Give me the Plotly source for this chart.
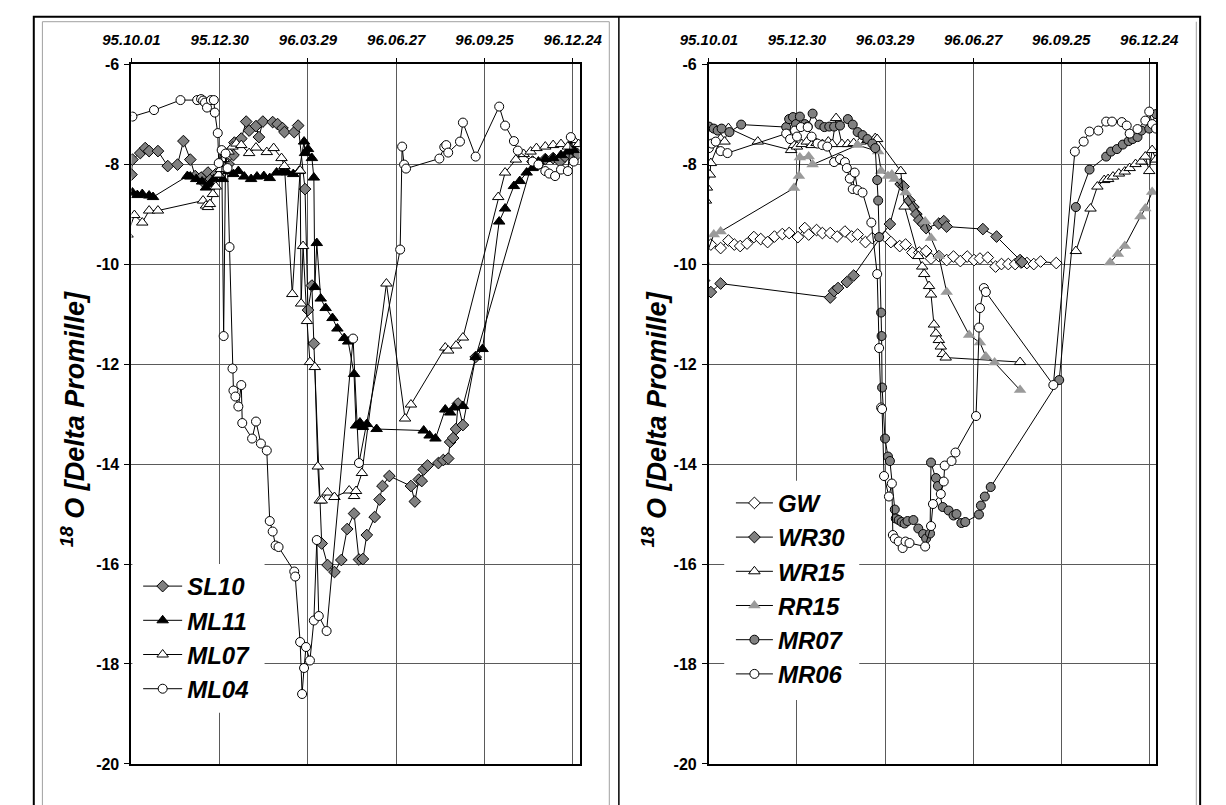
import pandas as pd
import plotly.graph_objects as go

# ---------------- data (days since 1995-10-01, delta-18O values) ----------------
BASE = pd.Timestamp("1995-10-01")
END_DAY = 457
tick_days = [0, 90, 180, 270, 360, 450]
y_ticks = [-20, -18, -16, -14, -12, -10, -8, -6]
y_ticktext = ["-20", "-18", "-16", "-14", "-12", "-10", "-8", "-6"]

# Left panel
SL10_day = [-4, 0, 1, 9, 14, 18, 27, 37, 47, 53, 60, 65, 71, 75, 78, 81, 86, 93, 99, 104,
            105, 112, 117, 120, 127, 130, 134, 144, 149, 154, 156, 166, 170, 177, 180, 184, 186, 194, 200, 207,
            214, 220, 227, 232, 236, 240, 248, 253, 256, 263, 285, 289, 293, 296, 298, 302, 313, 318, 323, 325,
            328, 331, 333, 338, 351, 409, 415, 422, 430, 437, 442, 448, 455]
SL10_val = [-8.55, -8.21, -7.91, -7.78, -7.68, -7.74, -7.74, -8.04, -8.01, -7.54, -7.91, -8.24, -8.27, -8.39, -8.17, -8.3, -8.2, -7.95, -8.0, -7.82,
            -7.57, -7.49, -7.15, -7.33, -7.24, -7.46, -7.15, -7.16, -7.2, -7.28, -7.36, -7.36, -7.23, -8.5, -10.92, -10.43, -11.59, -15.59, -16.02, -16.16,
            -15.92, -15.3, -14.99, -15.91, -15.9, -15.42, -15.06, -14.71, -14.44, -14.24, -14.44, -14.75, -14.31, -14.34, -14.11, -14.03, -13.98, -13.92, -13.89, -13.56,
            -13.48, -13.3, -12.79, -13.22, -11.86, -7.95, -8.0, -7.9, -7.88, -7.95, -7.85, -7.82, -7.8]

ML11_day = [-4, 1, 6, 11, 18, 22, 57, 60, 66, 72, 76, 80, 84, 89, 93, 99, 104, 109, 115, 122,
            128, 135, 141, 148, 154, 159, 165, 171, 176, 177, 180, 184, 186, 187, 189, 193, 198, 205, 210, 217,
            221, 227, 229, 233, 236, 240, 250, 298, 304, 310, 320, 325, 329, 338, 351, 358, 375, 381, 390, 396,
            403, 409, 415, 422, 430, 438, 445, 451, 456]
ML11_val = [-8.57, -8.57, -8.62, -8.6, -8.63, -8.66, -8.24, -8.25, -8.3, -8.35, -8.47, -8.4, -8.3, -8.21, -8.3, -8.14, -8.2, -8.14, -8.25, -8.3,
            -8.25, -8.24, -8.28, -8.17, -8.14, -8.17, -8.2, -8.14, -7.55, -7.78, -7.7, -7.88, -8.27, -10.46, -9.58, -10.69, -10.88, -11.08, -11.29, -11.48,
            -11.55, -12.2, -13.23, -13.17, -13.26, -13.2, -13.3, -13.33, -13.43, -13.49, -12.91, -12.97, -12.87, -12.84, -11.86, -11.7, -9.15, -8.89, -8.44, -8.34,
            -8.17, -8.08, -7.95, -7.9, -7.88, -7.82, -7.75, -7.72, -7.6]

ML07_day = [-4, 3, 11, 18, 27, 73, 76, 78, 80, 83, 86, 89, 91, 94, 99, 103, 107, 112, 120, 127,
            138, 145, 153, 156, 164, 172, 173, 175, 179, 182, 187, 190, 192, 194, 200, 207, 222, 227, 229, 235,
            260, 279, 285, 320, 323, 331, 338, 374, 381, 392, 400, 407, 413, 422, 430, 438, 445, 451, 456]
ML07_val = [-9.41, -9.02, -9.17, -8.93, -8.93, -8.73, -8.83, -8.86, -8.8, -8.6, -8.45, -8.21, -8.1, -7.9, -7.75, -7.65, -7.59, -7.62, -7.78, -7.67,
            -7.76, -7.68, -7.88, -8.04, -10.6, -8.13, -10.79, -9.64, -11.14, -11.96, -12.06, -14.05, -14.73, -14.73, -14.57, -14.66, -14.53, -14.64, -14.54, -14.18,
            -10.39, -13.09, -12.81, -11.67, -11.73, -11.63, -11.47, -8.66, -8.17, -7.91, -7.8, -7.75, -7.68, -7.65, -7.62, -7.6, -7.65, -7.52, -7.6]

ML04_day = [-7, 1, 23, 50, 67, 71, 73, 75, 77, 81, 84, 85, 88, 89, 92, 94, 96, 98, 100, 103,
            104, 106, 109, 112, 113, 123, 127, 132, 138, 141, 144, 147, 150, 166, 167, 172, 174, 176, 178, 182,
            186, 189, 191, 199, 226, 232, 274, 276, 278, 280, 314, 319, 321, 323, 335, 338, 351, 375, 381, 390,
            394, 409, 415, 422, 426, 432, 438, 445, 448, 451]
ML04_val = [-6.87, -7.05, -6.92, -6.72, -6.72, -6.7, -6.73, -6.77, -6.87, -6.72, -6.72, -6.97, -7.38, -7.98, -7.72, -11.44, -7.79, -8.08, -9.66, -12.09,
            -12.53, -12.65, -12.85, -12.42, -13.18, -13.49, -13.15, -13.59, -13.73, -15.14, -15.35, -15.63, -15.66, -16.15, -16.25, -17.56, -18.6, -18.08, -17.66, -17.93,
            -17.13, -15.52, -17.04, -17.34, -11.49, -13.98, -9.71, -7.65, -8.01, -8.09, -7.89, -7.66, -7.62, -7.77, -7.55, -7.17, -7.85, -6.85, -7.23, -7.54,
            -7.73, -7.95, -8.01, -8.14, -8.19, -8.24, -8.11, -8.14, -7.46, -7.95]

# Right panel
GW_day = [-7, 2, 12, 20, 26, 32, 39, 46, 53, 60, 67, 75, 82, 91, 98, 102, 110, 116, 124, 131,
          139, 146, 152, 160, 167, 180, 186, 195, 201, 208, 215, 222, 227, 235, 243, 250, 257, 264, 271, 277,
          285, 293, 299, 306, 313, 319, 325, 332, 339, 355]
GW_val = [-9.64, -9.61, -9.68, -9.53, -9.61, -9.64, -9.59, -9.46, -9.5, -9.56, -9.45, -9.4, -9.38, -9.46, -9.28, -9.41, -9.32, -9.38, -9.38, -9.45,
          -9.35, -9.45, -9.41, -9.56, -9.48, -9.45, -9.56, -9.64, -9.61, -9.77, -9.77, -9.74, -9.89, -9.84, -9.92, -9.85, -9.94, -9.85, -9.92, -9.89,
          -9.87, -10.05, -10.0, -10.0, -10.0, -9.97, -9.98, -10.0, -9.95, -9.98]

WR30_day = [-5, 2, 12, 124, 128, 132, 141, 148, 185, 196, 199, 205, 209, 212, 215, 219, 222, 235, 240, 243, 280, 294, 318, 320]
WR30_val = [-10.33, -10.56, -10.39, -10.67, -10.54, -10.48, -10.36, -10.23, -9.2, -8.4, -8.45, -8.73, -8.86, -9.0, -9.12, -9.2, -9.28, -9.19, -9.14, -9.25, -9.3, -9.45, -9.92, -9.96]

WR15_day = [-3, -2, 1, 2, 12, 16, 20, 50, 84, 87, 90, 95, 100, 105, 110, 116, 122, 126, 130, 136,
            142, 148, 155, 162, 170, 172, 196, 200, 214, 218, 220, 225, 227, 230, 232, 235, 237, 239, 242, 318,
            None, 375, 390, 397, 404, 408, 413, 419, 425, 430, 436, 442, 446, 450, 453, 457]
WR15_val = [-8.73, -8.47, -8.21, -7.98, -7.49, -7.55, -7.28, -7.55, -7.72, -7.62, -7.65, -7.6, -7.55, -7.62, -7.58, -7.6, -7.55, -7.6, -7.08, -7.6,
            -7.6, -7.58, -7.55, -7.52, -7.48, -7.5, -8.14, -8.85, -9.84, -10.05, -10.2, -10.44, -10.61, -11.21, -11.39, -11.52, -11.65, -11.8, -11.87, -11.96,
            None, -9.74, -8.89, -8.45, -8.32, -8.3, -8.25, -8.19, -8.15, -8.08, -8.0, -7.95, -7.85, -8.14, -7.72, -7.91]

RR15_day = [-5, 5, 12, 87, 92, 93, 102, 106, 152, 173, 176, 183, 187, 190, 201, 221, 227, 235, 243, 266,
            277, 283, 292, 318, None, 410, 418, 425, 441, 446, 453]
RR15_val = [-9.94, -9.41, -9.35, -8.48, -8.24, -7.87, -7.85, -8.01, -7.62, -7.75, -8.14, -8.24, -8.21, -8.3, -8.57, -9.15, -9.48, -9.84, -10.56, -11.42,
            -11.57, -11.85, -11.97, -12.52, None, -9.97, -9.8, -9.64, -9.05, -8.89, -8.56]

MR07_day = [-7, 0, 5, 9, 13, 21, 33, 79, 82, 86, 89, 93, 98, 101, 106, 113, 118, 123, 128, 134,
            142, 147, 152, 157, 162, 167, 170, 172, 173, 174, 176, 176.5, 177, 180, 183, 185, 190, 191, 194, 197,
            200, 203, 209, 214, 219, 222, 226, 227, 232, 234, 239, 245, 250, 253, 258, 262, 276, 278, 282, 288,
            358, 375, 389, 406, 411, 417, 423, 429, 433, 438, 442, 450, 457]
MR07_val = [-7.06, -7.25, -7.29, -7.33, -7.29, -7.36, -7.21, -7.26, -7.1, -7.06, -7.2, -7.05, -7.2, -7.25, -6.99, -7.21, -7.26, -7.25, -7.25, -7.23,
            -7.1, -7.21, -7.36, -7.42, -7.5, -7.59, -7.68, -8.32, -8.73, -9.46, -10.97, -11.44, -12.47, -13.49, -13.85, -13.94, -14.91, -15.09, -15.12, -15.16,
            -15.19, -15.14, -15.12, -15.29, -15.4, -15.49, -15.39, -13.97, -14.28, -14.44, -14.86, -14.93, -15.03, -15.0, -15.18, -15.16, -15.01, -14.83, -14.65, -14.46,
            -12.32, -8.86, -8.11, -7.85, -7.75, -7.7, -7.61, -7.54, -7.5, -7.46, -7.33, -7.29, -7.0]

MR06_day = [-5, 0, 3, 7, 12, 19, 79, 83, 88, 90, 94, 101, 105, 111, 116, 121, 128, 134, 139, 141,
            144, 147, 149, 152, 157, 166, 172, 174, 176, 177, 179, 184, 187, 188, 190, 194, 198, 201, 205, 221,
            227, 229, 237, 240, 241, 248, 252, 273, 276, 277, 281, 283, 352, 374, 383, 389, 398, 406, 412, 422,
            427, 430, 438, 446, 450, 453, 457]
MR06_val = [-7.62, -7.68, -7.59, -7.55, -7.74, -7.78, -7.39, -7.5, -7.33, -7.45, -7.26, -7.26, -7.45, -7.59, -7.62, -7.65, -7.96, -7.9, -7.96, -8.08,
            -8.29, -8.5, -8.17, -8.52, -8.57, -9.17, -10.2, -11.68, -12.87, -12.9, -14.24, -14.65, -14.39, -15.42, -15.49, -15.55, -15.68, -15.55, -15.58, -15.65,
            -15.24, -14.8, -14.6, -14.35, -14.03, -13.94, -13.77, -13.04, -11.27, -10.88, -10.48, -10.56, -12.42, -7.75, -7.55, -7.35, -7.33, -7.15, -7.15, -7.16,
            -7.23, -7.39, -7.3, -7.13, -6.95, -7.2, -7.29]

Y_TITLE = "<sup>18</sup> O [Delta Promille]"


def to_dates(days):
    return [None if d is None else BASE + pd.Timedelta(days=d) for d in days]


# ---------------- figure ----------------
W, H = 1226, 805
FONT = "Arial, Liberation Sans, sans-serif"
GRAY = "#808080"
GRID = "#5a5a5a"

fig = go.Figure()

def add(name, days, vals, symbol, fill, xa, ya, leg, size, outline=1):
    fig.add_trace(go.Scatter(
        x=to_dates(days), y=vals, name=name, mode="lines+markers",
        xaxis=xa, yaxis=ya, legend=leg, legendgroup=name, connectgaps=False,
        line=dict(color="black", width=1),
        marker=dict(symbol=symbol, size=size, color=fill,
                    line=dict(color="black", width=outline)),
    ))

add("SL10", SL10_day, SL10_val, "diamond", GRAY, "x", "y", "legend", 9)
add("ML11", ML11_day, ML11_val, "triangle-up", "black", "x", "y", "legend", 10)
add("ML07", ML07_day, ML07_val, "triangle-up", "white", "x", "y", "legend", 10)
add("ML04", ML04_day, ML04_val, "circle", "white", "x", "y", "legend", 9)

add("GW", GW_day, GW_val, "diamond", "white", "x2", "y2", "legend2", 9)
add("WR30", WR30_day, WR30_val, "diamond", GRAY, "x2", "y2", "legend2", 9)
add("WR15", WR15_day, WR15_val, "triangle-up", "white", "x2", "y2", "legend2", 10)
add("RR15", RR15_day, RR15_val, "triangle-up", "#9a9a9a", "x2", "y2", "legend2", 11, outline=0)
add("MR07", MR07_day, MR07_val, "circle", GRAY, "x2", "y2", "legend2", 9)
add("MR06", MR06_day, MR06_val, "circle", "white", "x2", "y2", "legend2", 9)

xr = [BASE, BASE + pd.Timedelta(days=END_DAY)]
tickvals = to_dates(tick_days)

def xaxis(domain, anchor):
    return dict(domain=domain, anchor=anchor, side="top", type="date", range=xr,
                tickvals=tickvals, tickformat="%y.%m.%d",
                showgrid=True, gridcolor=GRID, gridwidth=1,
                showline=True, linecolor="black", linewidth=2, mirror=True,
                ticks="outside", ticklen=4, tickcolor="black",
                ticklabelstandoff=7,
                tickfont=dict(family=FONT, size=15, color="black", weight="bold", style="italic"))

def yaxis(anchor):
    return dict(domain=[1 - 772.3 / H, 1 - 57.3 / H], anchor=anchor, range=[-20, -6],
                tickvals=y_ticks, ticktext=y_ticktext,
                showgrid=True, gridcolor=GRID, gridwidth=1,
                zeroline=False, showline=True, linecolor="black", linewidth=2, mirror=True,
                ticks="outside", ticklen=5, tickcolor="black", ticklabelstandoff=2,
                tickfont=dict(family=FONT, size=16, color="black", weight="bold"))

legfont = dict(family=FONT, size=24, color="black", weight="bold", style="italic")

def px_rect(x0, x1, y0, y1, **kw):
    return dict(type="rect", xref="paper", yref="paper", x0=x0 / W, x1=x1 / W,
                y0=1 - y1 / H, y1=1 - y0 / H, **kw)

fig.update_layout(
    width=W, height=H, margin=dict(l=0, r=0, t=0, b=0),
    paper_bgcolor="white", plot_bgcolor="white",
    xaxis=xaxis([107 / W, 575 / W], "y"),
    yaxis=yaxis("x"),
    xaxis2=xaxis([710 / W, 1177 / W], "y2"),
    yaxis2=yaxis("x2"),
    legend=dict(x=114 / W, y=1 - 568 / H, xanchor="left", yanchor="top",
                bgcolor="rgba(255,255,255,0)", borderwidth=0, font=legfont, itemwidth=39,
                tracegroupgap=3, traceorder="normal"),
    legend2=dict(x=733 / W, y=1 - 483 / H, xanchor="left", yanchor="top",
                 bgcolor="rgba(255,255,255,0)", borderwidth=0, font=legfont, itemwidth=37,
                 tracegroupgap=3, traceorder="normal"),
    annotations=[
        dict(text="<b><i>" + Y_TITLE + "</i></b>", x=46 / W, y=1 - 420 / H,
             xref="paper", yref="paper", xanchor="center", yanchor="middle",
             textangle=-90, showarrow=False,
             font=dict(family=FONT, size=27, color="black")),
        dict(text="<b><i>" + Y_TITLE + "</i></b>", x=653 / W, y=1 - 420 / H,
             xref="paper", yref="paper", xanchor="center", yanchor="middle",
             textangle=-90, showarrow=False,
             font=dict(family=FONT, size=27, color="black")),
    ],
    shapes=[
        # white legend boxes (hide the grid behind the legends)
        px_rect(108, 246, 568, 720, fillcolor="white", line=dict(width=0), layer="above"),
        px_rect(726, 867, 483, 707, fillcolor="white", line=dict(width=0), layer="above"),
        # outer frame
        px_rect(5, 1223, 9, 830, line=dict(color="black", width=2)),
        # panel divider
        dict(type="line", xref="paper", yref="paper", x0=616 / W, x1=616 / W,
             y0=-0.03, y1=1 - 9 / H, line=dict(color="black", width=1.5)),
        # inner gray frames
        px_rect(14, 606, 14, 830, line=dict(color="#a0a0a0", width=1)),
        dict(type="line", xref="paper", yref="paper", x0=1219 / W, x1=1219 / W,
             y0=-0.03, y1=1 - 14 / H, line=dict(color="#a0a0a0", width=1)),
    ],
)

fig.write_html("out.html", config={"displayModeBar": False},
               post_script="document.body.style.margin='0px';")
